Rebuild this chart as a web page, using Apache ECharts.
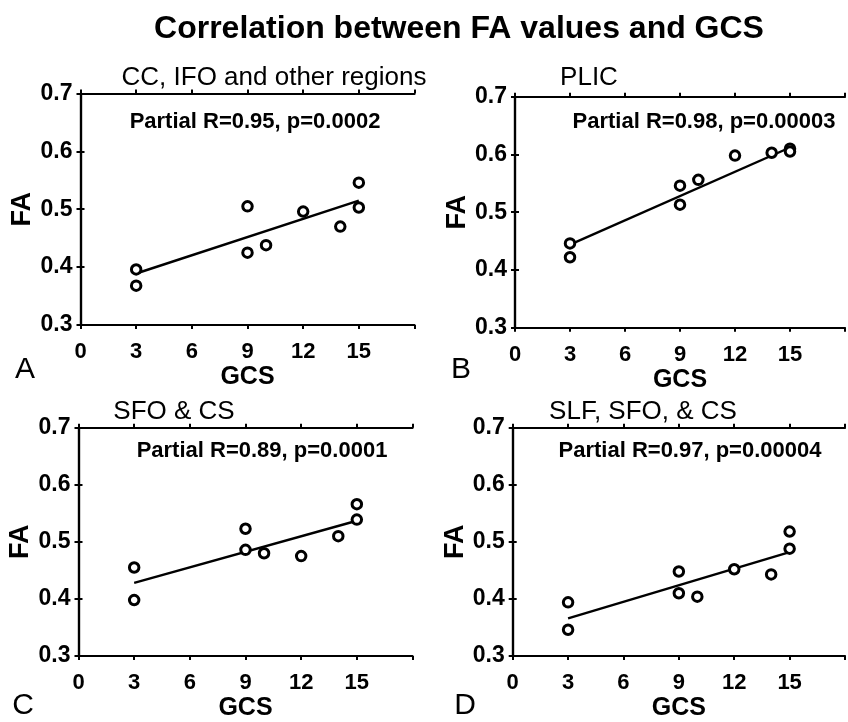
<!DOCTYPE html>
<html><head><meta charset="utf-8">
<script src="https://cdn.jsdelivr.net/npm/echarts@6/dist/echarts.min.js"></script>
<style>html,body{margin:0;padding:0;background:#fff}#c{width:848px;height:722px}</style>
</head><body><div id="c"></div>
<script>
// ---- data ----
var gcs = [3, 3, 9, 9, 10, 12, 14, 15, 15];
var faA = [0.396, 0.368, 0.505, 0.425, 0.438, 0.496, 0.470, 0.546, 0.503];
var faB = [0.446, 0.422, 0.546, 0.513, 0.556, 0.598, 0.603, 0.610, 0.605];
var faC = [0.455, 0.398, 0.523, 0.486, 0.480, 0.475, 0.510, 0.566, 0.539];
var faD = [0.394, 0.346, 0.448, 0.410, 0.404, 0.452, 0.443, 0.518, 0.488];
var fitX = [3, 15];
var fitA = [0.389, 0.515];
var fitB = [0.444, 0.612];
var fitC = [0.428, 0.537];
var fitD = [0.366, 0.482];
var panelTitles = ['CC, IFO and other regions', 'PLIC', 'SFO & CS', 'SLF, SFO, & CS'];
var stats = ['Partial R=0.95, p=0.0002', 'Partial R=0.98, p=0.00003', 'Partial R=0.89, p=0.0001', 'Partial R=0.97, p=0.00004'];
var letters = ['A', 'B', 'C', 'D'];
var xTicks = [0, 3, 6, 9, 12, 15];
var yTicks = [0.3, 0.4, 0.5, 0.6, 0.7];

var FONT = '"Liberation Sans", Arial, sans-serif';
var grids = [
  {left: 80.5, top: 93.5, width: 334, height: 231.5},
  {left: 515, top: 96.7, width: 334, height: 231},
  {left: 78.5, top: 427.7, width: 334, height: 230.8},
  {left: 512.7, top: 427.7, width: 335, height: 231}
];
var faAll = [faA, faB, faC, faD];
var fitAll = [fitA, fitB, fitC, fitD];

function pairs(xs, ys) { return xs.map(function (x, i) { return [x, ys[i]]; }); }

var xAxes = [], yAxes = [], series = [];
grids.forEach(function (g, i) {
  var common = {
    gridIndex: i, type: 'value',
    axisLine: {show: true, lineStyle: {color: '#000', width: 2.2}},
    axisTick: {show: true, length: 4, lineStyle: {color: '#000', width: 2}},
    splitLine: {show: false}
  };
  xAxes.push(Object.assign({}, common, {
    position: 'bottom', min: 0, max: 18, interval: 3,
    name: 'GCS', nameLocation: 'middle', nameGap: 40,
    nameTextStyle: {fontFamily: FONT, fontWeight: 'bold', fontSize: 25, color: '#000', verticalAlign: 'top'},
    axisLabel: {fontFamily: FONT, fontWeight: 'bold', fontSize: 22, color: '#000', margin: 16,
      formatter: function (v) { return xTicks.indexOf(v) >= 0 ? String(v) : ''; }}
  }));
  xAxes.push(Object.assign({}, common, {
    position: 'top', min: 0, max: 18, interval: 3, axisLabel: {show: false}
  }));
  yAxes.push(Object.assign({}, common, {
    position: 'left', min: 0.3, max: 0.7, interval: 0.1,
    name: 'FA', nameLocation: 'middle', nameGap: 44,
    nameTextStyle: {fontFamily: FONT, fontWeight: 'bold', fontSize: 27, color: '#000'},
    axisLabel: {fontFamily: FONT, fontWeight: 'bold', fontSize: 23, color: '#000', margin: 8,
      formatter: function (v) { return v.toFixed(1); }}
  }));
  yAxes.push(Object.assign({}, common, {
    position: 'right', min: 0.3, max: 0.7, interval: 0.1, axisLabel: {show: false}
  }));
  series.push({
    type: 'line', xAxisIndex: i * 2, yAxisIndex: i * 2,
    data: pairs(fitX, fitAll[i]), symbol: 'none',
    lineStyle: {color: '#000', width: 2.4}, silent: true, z: 2
  });
  series.push({
    type: 'scatter', xAxisIndex: i * 2, yAxisIndex: i * 2,
    data: pairs(gcs, faAll[i]), symbol: 'circle', symbolSize: 9.5,
    itemStyle: {color: '#fff', borderColor: '#000', borderWidth: 3, opacity: 1}, z: 3
  });
});

var titleCenters = [[274, 78], [589, 78], [174, 412], [643, 412]];
var statCenters = [[255, 122], [704, 122], [262, 451], [690, 451]];
var letterCenters = [[25, 370], [461, 370], [23, 706], [465, 706]];

var graphics = [{
  type: 'text', x: 459, y: 29,
  style: {text: 'Correlation between FA values and GCS', font: 'bold 32px ' + FONT, fill: '#000', align: 'center', verticalAlign: 'middle'}
}];
for (var k = 0; k < 4; k++) {
  graphics.push({type: 'text', x: titleCenters[k][0], y: titleCenters[k][1],
    style: {text: panelTitles[k], font: '26px ' + FONT, fill: '#000', align: 'center', verticalAlign: 'middle'}});
  graphics.push({type: 'text', x: statCenters[k][0], y: statCenters[k][1], z: 10,
    style: {text: stats[k], font: 'bold 22px ' + FONT, fill: '#000', align: 'center', verticalAlign: 'middle'}});
  graphics.push({type: 'text', x: letterCenters[k][0], y: letterCenters[k][1],
    style: {text: letters[k], font: '30px ' + FONT, fill: '#000', align: 'center', verticalAlign: 'middle'}});
}

var chart = echarts.init(document.getElementById('c'));
chart.setOption({
  backgroundColor: '#fff',
  animation: false,
  grid: grids,
  xAxis: xAxes,
  yAxis: yAxes,
  series: series,
  graphic: graphics
});
</script></body></html>
